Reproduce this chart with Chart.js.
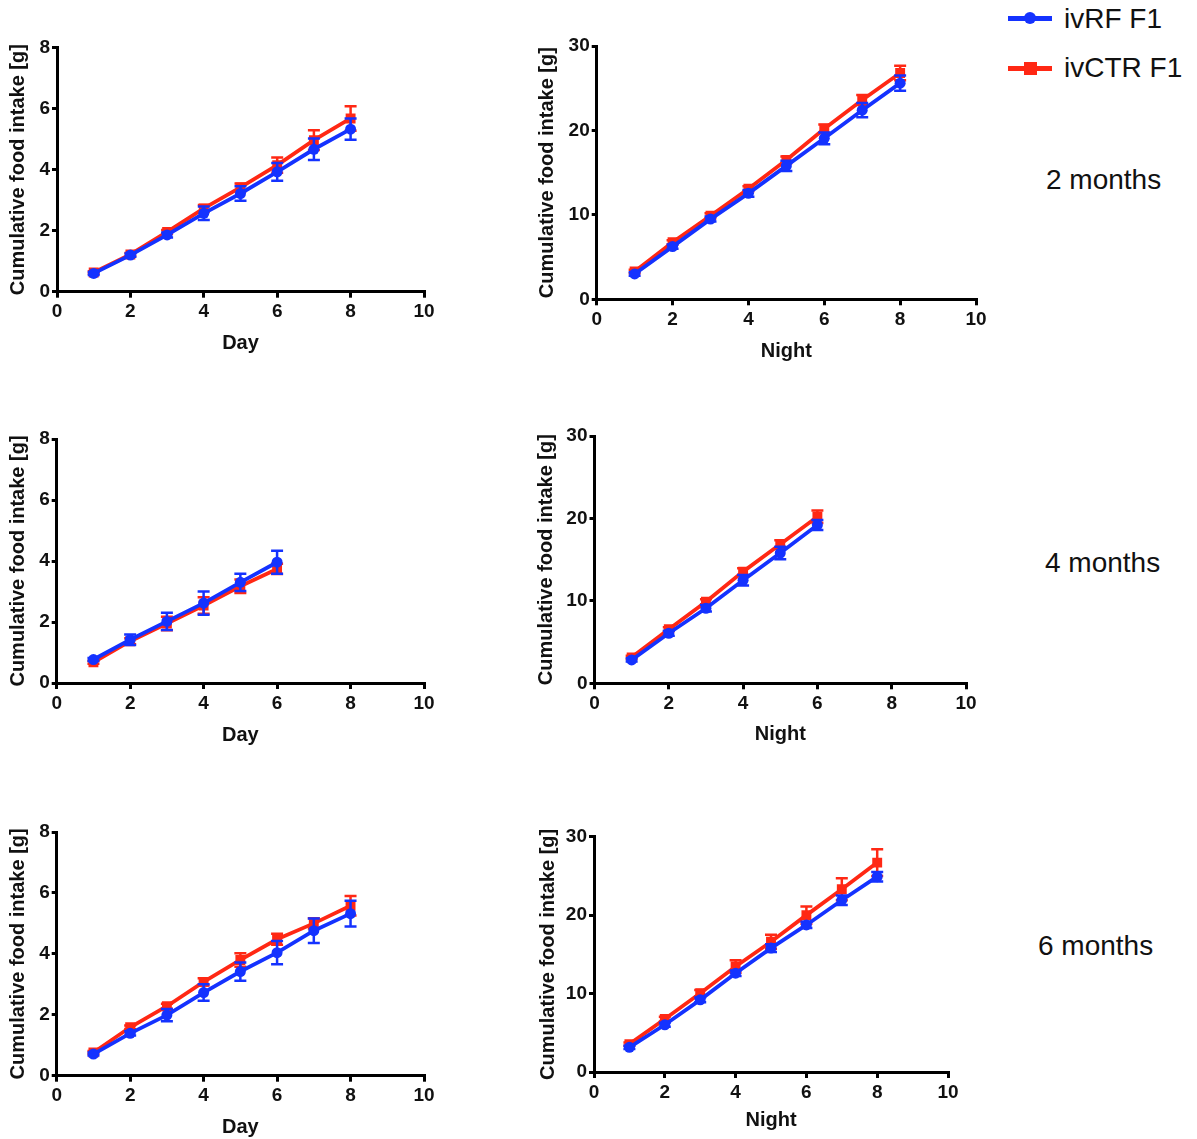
<!DOCTYPE html>
<html>
<head>
<meta charset="utf-8">
<script src="https://cdn.jsdelivr.net/npm/chart.js@4/dist/chart.umd.min.js"></script>
<style>
  body { margin: 0; background: #fff; width: 1197px; height: 1139px; position: relative; overflow: hidden; }
  canvas { position: absolute; }
  .lbl { position: absolute; font-family: "Liberation Sans", Arial, sans-serif; font-size: 28px; color: #111; white-space: nowrap; line-height: 1; }
  .key { position: absolute; height: 5px; width: 44px; }
  .dot { position: absolute; }
</style>
</head>
<body>
<canvas id="c1"></canvas>
<canvas id="c2"></canvas>
<canvas id="c3"></canvas>
<canvas id="c4"></canvas>
<canvas id="c5"></canvas>
<canvas id="c6"></canvas>

<!-- leyenda -->
<div class="key" style="left:1008px; top:16px; background:#1432ff;"></div>
<div class="dot" style="left:1024px; top:12px; width:12px; height:12px; border-radius:50%; background:#1432ff;"></div>
<div class="lbl" style="left:1064px; top:5px;">ivRF F1</div>
<div class="key" style="left:1008px; top:66px; background:#ff2814;"></div>
<div class="dot" style="left:1024px; top:62px; width:13px; height:13px; background:#ff2814;"></div>
<div class="lbl" style="left:1064px; top:54px;">ivCTR F1</div>

<div class="lbl" style="left:1046px; top:166px;">2 months</div>
<div class="lbl" style="left:1045px; top:549px;">4 months</div>
<div class="lbl" style="left:1038px; top:932px;">6 months</div>

<script>
// Datos (media y error por punto)
const days8 = [1, 2, 3, 4, 5, 6, 7, 8];
const days6 = [1, 2, 3, 4, 5, 6];

const xTicks = [0, 2, 4, 6, 8, 10];
const dayYTicks = [0, 2, 4, 6, 8];
const nightYTicks = [0, 10, 20, 30];

// 2 months - Day
const rf2Day = [0.60, 1.20, 1.86, 2.57, 3.22, 3.93, 4.67, 5.33];
const rf2DayErr = [0.05, 0.05, 0.08, 0.22, 0.24, 0.29, 0.35, 0.35];
const ctr2Day = [0.63, 1.22, 1.96, 2.73, 3.42, 4.15, 4.97, 5.68];
const ctr2DayErr = [0.04, 0.05, 0.06, 0.11, 0.13, 0.25, 0.32, 0.40];

// 2 months - Night
const rf2Night = [3.0, 6.24, 9.5, 12.55, 15.8, 19.07, 22.4, 25.6];
const rf2NightErr = [0.2, 0.25, 0.3, 0.4, 0.6, 0.7, 0.85, 0.9];
const ctr2Night = [3.3, 6.75, 9.9, 13.1, 16.5, 20.2, 23.6, 26.8];
const ctr2NightErr = [0.2, 0.25, 0.3, 0.3, 0.4, 0.5, 0.6, 0.85];

// 4 months - Day
const rf4Day = [0.77, 1.42, 2.02, 2.62, 3.30, 3.96];
const rf4DayErr = [0.05, 0.17, 0.28, 0.38, 0.28, 0.38];
const ctr4Day = [0.68, 1.37, 1.95, 2.54, 3.17, 3.74];
const ctr4DayErr = [0.05, 0.10, 0.22, 0.27, 0.22, 0.17];

// 4 months - Night
const rf4Night = [2.83, 6.07, 9.1, 12.5, 15.8, 19.2];
const rf4NightErr = [0.2, 0.3, 0.4, 0.65, 0.75, 0.6];
const ctr4Night = [3.15, 6.55, 9.9, 13.55, 16.86, 20.2];
const ctr4NightErr = [0.2, 0.25, 0.3, 0.4, 0.5, 0.75];

// 6 months - Day
const rf6Day = [0.71, 1.39, 1.99, 2.73, 3.42, 4.04, 4.76, 5.32];
const rf6DayErr = [0.05, 0.07, 0.20, 0.27, 0.30, 0.38, 0.40, 0.42];
const ctr6Day = [0.76, 1.59, 2.28, 3.08, 3.80, 4.48, 5.00, 5.58];
const ctr6DayErr = [0.05, 0.06, 0.08, 0.12, 0.22, 0.18, 0.17, 0.32];

// 6 months - Night
const rf6Night = [3.14, 6.02, 9.2, 12.6, 15.8, 18.75, 21.9, 24.9];
const rf6NightErr = [0.2, 0.25, 0.3, 0.35, 0.5, 0.4, 0.6, 0.6];
const ctr6Night = [3.56, 6.75, 10.05, 13.45, 16.6, 20.0, 23.3, 26.7];
const ctr6NightErr = [0.2, 0.3, 0.4, 0.8, 0.9, 1.1, 1.4, 1.7];

const BLUE = '#1432ff';
const RED = '#ff2814';
const FONT = '"Liberation Sans", Arial, sans-serif';
const TICK_SIZE = 19;
const TITLE_SIZE = 20;

// Dibuja barras de error antes de cada dataset (usa las escalas de Chart.js)
const errorBars = {
  id: 'errorBars',
  beforeDatasetDraw(chart, args) {
    const ds = chart.data.datasets[args.index];
    if (!ds.errors) return;
    const { ctx, scales: { x, y } } = chart;
    ctx.save();
    ctx.strokeStyle = ds.borderColor;
    ctx.lineWidth = 2.5;
    ds.data.forEach((p, i) => {
      const e = ds.errors[i];
      const px = x.getPixelForValue(p.x);
      const top = y.getPixelForValue(p.y + e);
      const bot = y.getPixelForValue(p.y - e);
      ctx.beginPath();
      ctx.moveTo(px, top); ctx.lineTo(px, bot);
      ctx.moveTo(px - 6, top); ctx.lineTo(px + 6, top);
      ctx.moveTo(px - 6, bot); ctx.lineTo(px + 6, bot);
      ctx.stroke();
    });
    ctx.restore();
  }
};

function toPoints(xs, ys) {
  return xs.map((d, i) => ({ x: d, y: ys[i] }));
}

function makePanel(id, box, xs, rf, rfErr, ctr, ctrErr, yTicks, xTitle) {
  const canvas = document.getElementById(id);
  const [cl, ct, cw, ch] = box.canvas;
  const [al, at, ar, ab] = box.area;
  canvas.width = cw; canvas.height = ch;
  canvas.style.left = cl + 'px'; canvas.style.top = ct + 'px';
  const titleLH = TITLE_SIZE * 1.2;
  const yW = al - cl;
  const xH = ct + ch - ab;

  new Chart(canvas.getContext('2d'), {
    type: 'line',
    data: {
      datasets: [
        { label: 'ivRF F1', data: toPoints(xs, rf), errors: rfErr, borderColor: BLUE, backgroundColor: BLUE,
          borderWidth: 3.8, pointStyle: 'circle', pointRadius: 5.5, pointBorderWidth: 0 },
        { label: 'ivCTR F1', data: toPoints(xs, ctr), errors: ctrErr, borderColor: RED, backgroundColor: RED,
          borderWidth: 3.8, pointStyle: 'rect', pointRadius: 7, pointBorderWidth: 0 }
      ]
    },
    options: {
      responsive: false,
      animation: false,
      devicePixelRatio: 1,
      layout: { padding: { left: 0, top: at - ct, right: cl + cw - ar, bottom: 0 } },
      plugins: { legend: { display: false }, tooltip: { enabled: false } },
      scales: {
        x: {
          type: 'linear', min: xTicks[0], max: xTicks[xTicks.length - 1],
          afterBuildTicks: s => { s.ticks = xTicks.map(v => ({ value: v })); },
          afterFit: s => { s.height = xH; },
          ticks: { color: '#111', font: { family: FONT, size: TICK_SIZE, weight: 'bold' }, padding: 3, maxRotation: 0 },
          grid: { drawOnChartArea: false, drawTicks: true, tickLength: 6, color: '#000', lineWidth: 3 },
          border: { display: true, color: '#000', width: 3 },
          title: { display: true, text: xTitle, color: '#111', font: { family: FONT, size: TITLE_SIZE, weight: 'bold' },
                   padding: { top: 0, bottom: ct + ch - box.xTitleY - titleLH / 2 } }
        },
        y: {
          type: 'linear', min: yTicks[0], max: yTicks[yTicks.length - 1],
          afterBuildTicks: s => { s.ticks = yTicks.map(v => ({ value: v })); },
          afterFit: s => { s.width = yW; },
          ticks: { color: '#111', font: { family: FONT, size: TICK_SIZE, weight: 'bold' }, padding: 2 },
          grid: { drawOnChartArea: false, drawTicks: true, tickLength: 5, color: '#000', lineWidth: 3 },
          border: { display: true, color: '#000', width: 3 },
          title: { display: true, text: 'Cumulative food intake [g]', color: '#111',
                   font: { family: FONT, size: TITLE_SIZE, weight: 'bold' },
                   padding: { top: box.yTitleX - cl - titleLH / 2, bottom: 0 } }
        }
      }
    },
    plugins: [errorBars]
  });
}

// Posiciones de cada panel: canvas [left, top, w, h], area [l, t, r, b]
const layout1 = { canvas: [0, 25, 445, 350], area: [57, 47.7, 424, 291.7], yTitleX: 18, xTitleY: 343 };
const layout2 = { canvas: [530, 25, 470, 355], area: [596.7, 46, 976, 299.3], yTitleX: 547, xTitleY: 351 };
const layout3 = { canvas: [0, 415, 445, 350], area: [56.7, 439, 424, 683], yTitleX: 18, xTitleY: 735 };
const layout4 = { canvas: [530, 415, 470, 350], area: [594.5, 436, 966, 683.3], yTitleX: 546, xTitleY: 734 };
const layout5 = { canvas: [0, 810, 445, 329], area: [56.7, 832, 424, 1075.7], yTitleX: 18, xTitleY: 1127 };
const layout6 = { canvas: [530, 810, 440, 329], area: [594, 836.7, 948, 1072], yTitleX: 548, xTitleY: 1120 };

makePanel('c1', layout1, days8, rf2Day, rf2DayErr, ctr2Day, ctr2DayErr, dayYTicks, 'Day');
makePanel('c2', layout2, days8, rf2Night, rf2NightErr, ctr2Night, ctr2NightErr, nightYTicks, 'Night');
makePanel('c3', layout3, days6, rf4Day, rf4DayErr, ctr4Day, ctr4DayErr, dayYTicks, 'Day');
makePanel('c4', layout4, days6, rf4Night, rf4NightErr, ctr4Night, ctr4NightErr, nightYTicks, 'Night');
makePanel('c5', layout5, days8, rf6Day, rf6DayErr, ctr6Day, ctr6DayErr, dayYTicks, 'Day');
makePanel('c6', layout6, days8, rf6Night, rf6NightErr, ctr6Night, ctr6NightErr, nightYTicks, 'Night');
</script>
</body>
</html>
